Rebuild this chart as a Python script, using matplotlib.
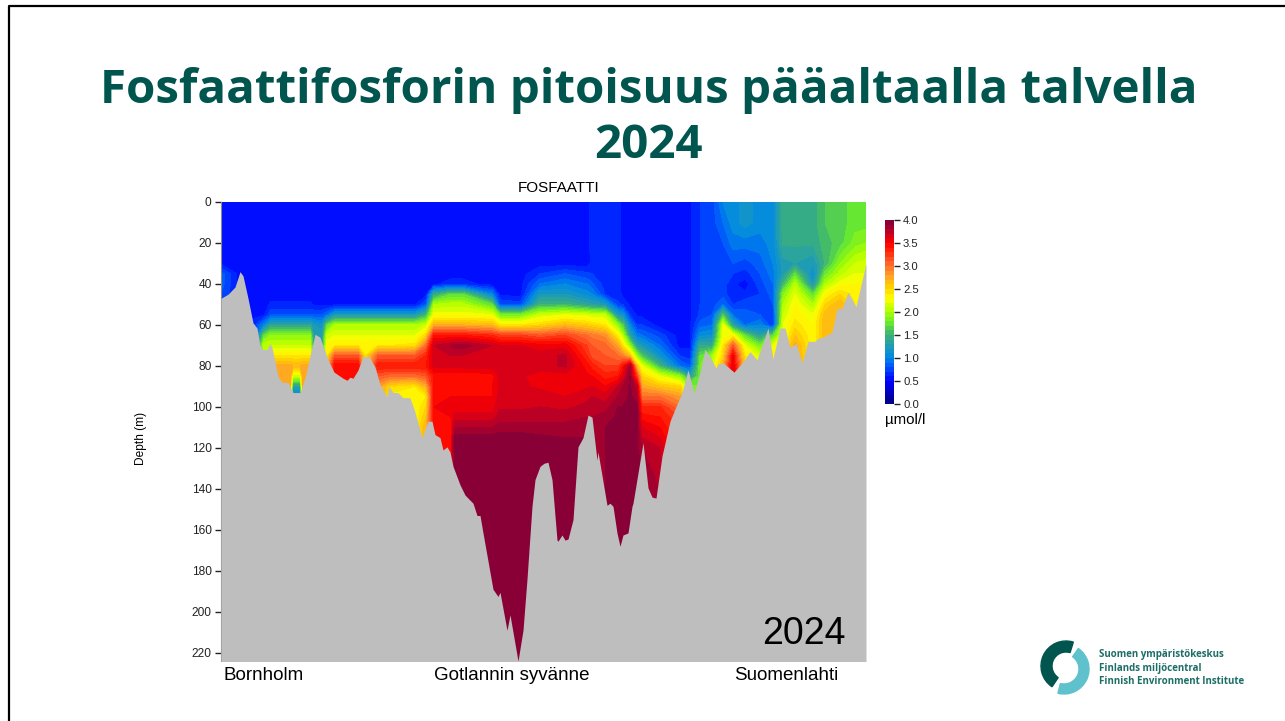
import numpy as np
import matplotlib
matplotlib.use("Agg")
import matplotlib.pyplot as plt
from matplotlib.colors import LinearSegmentedColormap
from matplotlib.lines import Line2D
from matplotlib.patches import Wedge

plt.rcParams['font.family'] = ['Liberation Sans', 'DejaVu Sans']

title_line_1 = "Fosfaattifosforin pitoisuus pääaltaalla talvella"
title_line_2 = "2024"
section_title = "FOSFAATTI"
y_label = "Depth (m)"
unit_label = "µmol/l"
place_labels = ["Bornholm", "Gotlannin syvänne", "Suomenlahti"]
year_label = "2024"
logo_lines = ["Suomen ympäristökeskus", "Finlands miljöcentral", "Finnish Environment Institute"]
depth_ticks = list(range(0, 221, 20))
cbar_ticks = [0.0, 0.5, 1.0, 1.5, 2.0, 2.5, 3.0, 3.5, 4.0]

depths = [0, 10, 20, 30, 35, 40, 45, 50, 55, 60, 65, 70, 75, 80, 85, 90, 95, 100, 105, 110, 115, 120, 140, 230]
stations = [221, 238, 255, 264, 271, 290, 293, 300, 303, 310, 314, 322, 327, 335, 358, 365, 378, 390, 415, 426, 434, 451, 455, 462,
            492, 500, 520, 540, 565, 587, 592, 605, 618, 623, 630, 637, 642, 660, 680, 690, 700, 712, 723, 733, 745, 760,
            773, 783, 795, 813, 825, 840, 855, 866]

p221 = [.55,.55,.55,.58,.85,.85,.8,.8,.8,.8,.8,.8,.8,.8,.8,.8,.8,.8,.8,.8,.8,.8,.8,.8]
p238 = [.55,.55,.55,.55,.58,.58,.58,.58,.58,.58,.58,.58,.58,.58,.58,.58,.58,.58,.58,.58,.58,.58,.58,.58]
p255 = [.55,.55,.55,.55,.55,.55,.55,.55,.55,.7,.8,.9,.9,.9,.9,.9,.9,.9,.9,.9,.9,.9,.9,.9]
p264 = [.55,.55,.55,.55,.55,.55,.55,.55,.58,1.0,1.7,2.1,2.1,2.1,2.1,2.1,2.1,2.1,2.1,2.1,2.1,2.1,2.1,2.1]
p271 = [.55,.55,.55,.55,.55,.55,.55,.62,.8,1.35,1.9,2.1,2.4,2.75,2.8,2.8,2.8,2.8,2.8,2.8,2.8,2.8,2.8,2.8]
p290 = [.55,.55,.55,.55,.55,.55,.55,.62,.8,1.35,1.9,2.1,2.4,2.75,2.8,2.8,2.8,2.8,2.8,2.8,2.8,2.8,2.8,2.8]
p293 = [.55,.55,.55,.55,.55,.55,.55,.62,.8,1.35,1.9,2.1,2.4,2.7,2.1,1.3,1.0,1.0,1.0,1.0,1.0,1.0,1.0,1.0]
p300 = [.55,.55,.55,.55,.55,.55,.55,.62,.8,1.35,1.9,2.1,2.4,2.7,2.1,1.3,1.0,1.0,1.0,1.0,1.0,1.0,1.0,1.0]
p303 = [.55,.55,.55,.55,.55,.55,.55,.62,.8,1.35,1.9,2.1,2.4,2.75,2.8,2.8,2.8,2.8,2.8,2.8,2.8,2.8,2.8,2.8]
p310 = [.55,.55,.55,.55,.55,.55,.55,.62,.8,1.35,1.9,2.1,2.4,2.75,2.8,2.8,2.8,2.8,2.8,2.8,2.8,2.8,2.8,2.8]
p314 = [.55,.55,.55,.55,.55,.55,.55,.58,.8,1.2,1.25,1.3,1.5,1.5,1.5,1.5,1.5,1.5,1.5,1.5,1.5,1.5,1.5,1.5]
p322 = [.55,.55,.55,.55,.55,.55,.55,.58,.8,1.15,1.25,1.3,1.5,1.5,1.5,1.5,1.5,1.5,1.5,1.5,1.5,1.5,1.5,1.5]
p327 = [.55,.55,.55,.55,.55,.55,.55,.57,.9,1.7,2.1,2.3,2.4,2.7,2.7,2.7,2.7,2.7,2.7,2.7,2.7,2.7,2.7,2.7]
p335 = [.55,.55,.55,.55,.55,.55,.55,.57,1.2,2.0,2.2,2.4,3.1,3.5,3.5,3.5,3.5,3.5,3.5,3.5,3.5,3.5,3.5,3.5]
p358 = [.55,.55,.55,.55,.55,.55,.55,.57,1.2,2.0,2.2,2.4,3.1,3.5,3.5,3.5,3.5,3.5,3.5,3.5,3.5,3.5,3.5,3.5]
p365 = [.55,.55,.55,.55,.55,.55,.55,.57,1.2,2.0,2.2,2.35,2.4,2.5,2.5,2.5,2.5,2.5,2.5,2.5,2.5,2.5,2.5,2.5]
p378 = [.55,.55,.55,.55,.55,.55,.55,.57,1.2,2.0,2.2,2.4,3.1,3.4,3.1,2.8,2.8,2.8,2.8,2.8,2.8,2.8,2.8,2.8]
p390 = [.55,.55,.55,.55,.55,.55,.55,.57,1.2,2.0,2.2,2.4,3.1,3.4,3.0,2.5,2.35,2.35,2.35,2.35,2.35,2.35,2.35,2.35]
p415 = [.55,.55,.55,.55,.55,.55,.55,.57,1.2,2.0,2.2,2.45,3.1,3.4,3.0,2.4,2.3,2.3,2.3,2.35,2.4,2.4,2.4,2.4]
p426 = [.55,.55,.55,.55,.55,.55,.58,.8,1.5,2.1,2.5,3.0,3.3,3.4,3.1,2.7,2.4,2.5,2.6,2.7,2.7,2.7,2.7,2.7]
p434 = [.55,.55,.55,.55,.55,.58,1.4,2.0,2.25,2.7,3.4,3.7,3.7,3.65,3.4,3.45,3.5,3.5,3.5,3.5,3.5,3.5,3.5,3.5]
p451 = [.55,.55,.55,.55,.55,.65,1.7,2.05,2.25,2.7,3.4,3.8,3.7,3.65,3.4,3.5,3.5,3.55,3.5,3.5,3.5,3.5,3.5,3.5]
p455 = [.55,.55,.55,.55,.55,.65,1.7,2.05,2.25,2.7,3.4,3.85,3.7,3.65,3.4,3.5,3.5,3.55,3.65,3.8,3.95,3.9,3.95,3.95]
p462 = [.55,.55,.55,.55,.55,.65,1.7,2.05,2.25,2.7,3.4,3.85,3.7,3.65,3.4,3.5,3.5,3.55,3.65,3.8,3.95,3.9,3.95,3.95]
p492 = [.55,.55,.55,.55,.55,.55,1.0,1.7,2.2,2.65,3.3,3.7,3.7,3.65,3.45,3.5,3.5,3.55,3.65,3.8,3.95,3.9,3.95,3.95]
p500 = [.55,.55,.55,.55,.55,.55,.58,.8,1.8,2.4,3.2,3.6,3.65,3.65,3.62,3.62,3.65,3.68,3.75,3.85,3.95,3.9,3.95,3.95]
p520 = [.55,.55,.55,.55,.55,.55,.55,.75,1.8,2.4,3.2,3.6,3.65,3.65,3.62,3.62,3.65,3.68,3.75,3.85,3.95,3.9,3.95,3.95]
p540 = [.55,.55,.55,.55,.7,.9,1.2,1.5,2.1,2.5,3.1,3.55,3.65,3.65,3.55,3.58,3.65,3.7,3.75,3.85,3.92,3.95,3.95,3.95]
p565 = [.55,.55,.55,.55,.8,1.0,1.2,1.5,2.2,2.65,3.2,3.55,3.72,3.72,3.55,3.55,3.6,3.68,3.75,3.85,3.9,3.95,3.95,3.95]
p587 = [.55,.55,.55,.55,.72,.9,1.05,1.35,2.15,2.55,3.0,3.2,3.3,3.45,3.52,3.58,3.68,3.72,3.8,3.85,3.9,3.92,3.9,3.9]
p592 = [.65,.65,.65,.62,.7,.82,1.0,1.3,2.1,2.5,2.95,3.1,3.15,3.35,3.5,3.6,3.7,3.75,3.8,3.85,3.9,3.9,3.9,3.9]
p605 = [.65,.65,.65,.65,.65,.65,.7,1.2,2.1,2.4,2.85,3.05,3.1,3.2,3.35,3.5,3.65,3.75,3.85,3.9,3.9,3.9,3.9,3.9]
p618 = [.65,.65,.65,.65,.65,.65,.65,.72,1.2,1.9,2.35,2.75,3.0,3.2,3.4,3.7,3.8,3.9,3.92,3.92,3.92,3.92,3.92,3.92]
p623 = [.55,.55,.55,.55,.55,.55,.57,.68,1.1,1.6,2.0,2.4,2.9,3.4,3.6,3.8,3.85,3.9,3.92,3.92,3.92,3.92,3.92,3.92]
p630 = [.55,.55,.55,.55,.55,.55,.55,.58,.7,1.0,1.3,1.9,2.6,3.85,3.9,3.92,3.92,3.92,3.92,3.92,3.92,3.92,3.92,3.92]
p637 = [.55,.55,.55,.55,.55,.55,.55,.56,.58,.7,.95,1.3,1.9,2.6,3.2,3.7,3.85,3.92,3.92,3.92,3.92,3.92,3.92,3.92]
p642 = [.55,.55,.55,.55,.55,.55,.55,.55,.57,.7,.9,1.2,1.6,2.2,2.5,2.75,3.0,3.3,3.45,3.6,3.7,3.8,3.95,3.95]
p660 = [.55,.55,.55,.55,.55,.55,.55,.55,.55,.55,.75,.9,1.1,1.5,2.2,2.6,3.0,3.3,3.4,3.5,3.6,3.7,3.8,3.8]
p680 = [.55,.55,.55,.55,.55,.55,.55,.55,.55,.55,.55,.55,.7,.9,1.9,2.5,2.8,3.0,3.2,3.2,3.2,3.2,3.2,3.2]
p690 = [.58,.58,.58,.58,.58,.58,.58,.58,.58,.58,.58,.58,.65,.8,1.3,1.9,2.1,2.1,2.1,2.1,2.1,2.1,2.1,2.1]
p700 = [.7,.7,.7,.7,.7,.7,.7,.7,.72,.85,1.05,1.4,1.7,1.8,1.8,1.8,1.8,1.8,1.8,1.8,1.8,1.8,1.8,1.8]
p712 = [.75,.75,.75,.75,.75,.75,.75,.75,.8,.9,1.1,1.4,1.95,2.1,2.1,2.1,2.1,2.1,2.1,2.1,2.1,2.1,2.1,2.1]
p723 = [1.0,.9,.8,.75,.75,.75,.75,.9,1.6,2.2,2.25,2.4,2.5,2.7,2.7,2.7,2.7,2.7,2.7,2.7,2.7,2.7,2.7,2.7]
p733 = [1.05,1.05,.95,.8,.7,.62,.62,.7,.9,1.3,2.3,3.1,3.5,3.6,3.6,3.6,3.6,3.6,3.6,3.6,3.6,3.6,3.6,3.6]
p745 = [1.15,1.15,.95,.75,.65,.55,.62,.78,.82,.9,1.7,2.2,2.4,2.5,2.5,2.5,2.5,2.5,2.5,2.5,2.5,2.5,2.5,2.5]
p760 = [1.05,1.05,.95,.85,.8,.75,.7,.72,.8,1.0,1.3,1.8,2.15,2.3,2.3,2.3,2.3,2.3,2.3,2.3,2.3,2.3,2.3,2.3]
p773 = [1.05,1.05,1.05,1.0,.95,.9,.85,.8,.72,.7,1.7,2.2,2.4,2.4,2.4,2.4,2.4,2.4,2.4,2.4,2.4,2.4,2.4,2.4]
p783 = [1.45,1.45,1.42,1.25,1.25,1.5,1.85,2.0,2.1,2.2,2.2,2.3,2.3,2.3,2.3,2.3,2.3,2.3,2.3,2.3,2.3,2.3,2.3,2.3]
p795 = [1.45,1.45,1.42,1.3,1.7,2.05,2.2,2.3,2.35,2.45,2.6,2.75,2.8,2.85,2.85,2.85,2.85,2.85,2.85,2.85,2.85,2.85,2.85,2.85]
p813 = [1.45,1.45,1.42,1.2,1.05,1.2,1.7,2.0,2.2,2.3,2.3,2.3,2.3,2.3,2.3,2.3,2.3,2.3,2.3,2.3,2.3,2.3,2.3,2.3]
p825 = [1.6,1.6,1.55,1.5,1.75,2.0,2.3,2.5,2.65,2.7,2.7,2.7,2.7,2.7,2.7,2.7,2.7,2.7,2.7,2.7,2.7,2.7,2.7,2.7]
p840 = [1.65,1.65,1.65,1.9,2.05,2.25,2.5,2.7,2.7,2.7,2.7,2.7,2.7,2.7,2.7,2.7,2.7,2.7,2.7,2.7,2.7,2.7,2.7,2.7]
p855 = [1.75,1.75,1.85,2.1,2.2,2.3,2.35,2.4,2.4,2.4,2.4,2.4,2.4,2.4,2.4,2.4,2.4,2.4,2.4,2.4,2.4,2.4,2.4,2.4]
p866 = [1.75,1.75,1.9,2.15,2.2,2.3,2.35,2.4,2.4,2.4,2.4,2.4,2.4,2.4,2.4,2.4,2.4,2.4,2.4,2.4,2.4,2.4,2.4,2.4]

profiles = [p221,p238,p255,p264,p271,p290,p293,p300,p303,p310,p314,p322,p327,p335,p358,p365,p378,p390,p415,p426,p434,p451,p455,p462,
            p492,p500,p520,p540,p565,p587,p592,p605,p618,p623,p630,p637,p642,p660,p680,p690,p700,p712,p723,p733,p745,p760,
            p773,p783,p795,p813,p825,p840,p855,p866]

bottom_x = [221,228,235,240,243,248,253,257,260,263,267,270,272,278,282,288,293,300,305,310,315,320,328,334,343,347,350,353,358,363,369,375,380,387,389,393,398,403,410,415,422,428,432,435,440,443,447,450,
            453,460,465,473,477,480,483,493,498,500,507,510,518,523,527,532,535,540,544,548,552,557,558,562,565,568,573,578,583,588,592,597,598,607,610,613,617,620,623,628,632,633,643,648,652,656,662,670,675,
            682,688,694,700,705,710,716,718,723,734,743,750,757,768,773,780,785,790,796,802,808,815,818,823,832,837,842,848,856,866]
bottom_d = [47,45,41.5,34,36,47,59,61.5,70,72,72,69,71,85,88,88,93,93,86,75,64.5,66,77,83,86,87,85.5,86,82,75.5,75.5,80.5,89,95,90,93,93,95.5,95.5,102.5,115,107,107,113.5,115,121,119.5,122,
            129,138,143,147,153,153,161.5,189,192.5,190.5,209,201.5,224,209,184,148.5,135.5,129,127.5,127,135.5,165,165.5,162.5,165,164.5,155,119.5,115,104,105,126,122,148,147,148.5,161.5,168,162.5,161.5,148.5,147,117.5,139.5,144,144.5,124,107,101,
            93,82,93,83,72,75.5,81,79,78.5,83,78,73,77,61.5,76.5,61.5,61.5,71,69,78.5,68,68,66.5,66,63.5,52,52,44,51,30]

node_values = [0.0, 0.5, 0.8, 1.0, 1.25, 1.5, 1.75, 2.0, 2.3, 2.55, 2.8, 3.1, 3.4, 3.5, 3.75, 4.0]
node_colors = ['#000080', '#0000ff', '#0050ff', '#0088e6', '#1e9cb4', '#3caf78', '#64e632', '#aaff00', '#ffff00',
               '#ffd000', '#ffa028', '#ff5a28', '#ff1400', '#ff0000', '#be0023', '#7d003c']
cmap = LinearSegmentedColormap.from_list('phos', [(v / 4.0, c) for v, c in zip(node_values, node_colors)])
levels = np.arange(0, 4.05, 0.1)

fig = plt.figure(figsize=(12.85, 7.21), dpi=100, facecolor='white')
W, H = 1285.0, 721.0

# page overlay in pixel units
page = fig.add_axes([0, 0, 1, 1])
page.set_xlim(0, W); page.set_ylim(H, 0); page.axis('off')
page.add_line(Line2D([9, 9, W], [H, 5.5, 5.5], color='black', lw=1.6))
title_font = dict(ha='center', va='center', fontsize=34.2, fontweight='bold', color='#00564f',
                  family=['Open Sans', 'DejaVu Sans'])
page.text(648.5, 91, title_line_1, **title_font)
page.text(648.5, 146, title_line_2, **title_font)

dark_teal, light_teal = '#00564f', '#5fc1cc'
page.add_patch(Wedge((1066, 666), 25, 124, 287, width=11, color=dark_teal))
page.add_patch(Wedge((1064, 669), 25, -55, 104, width=10, color=light_teal))
for line, y in zip(logo_lines, [655, 668, 681]):
    page.text(1099, y, line, ha='left', va='center', fontsize=7, fontweight='bold', color='#1c6e66',
              family=['Open Sans', 'DejaVu Sans'])

ax = fig.add_axes([221 / W, 1 - 661 / H, (866 - 221) / W, (661 - 202) / H])
values = np.column_stack(profiles)
cs = ax.contourf(stations, depths, values, levels=levels, cmap=cmap, vmin=0, vmax=4, extend='neither')
ax.fill_between(bottom_x, bottom_d, 230, color='#bebebe', lw=0, zorder=3)
ax.set_xlim(221, 866)
ax.set_ylim(224, 0)
ax.set_xticks([])
ax.set_yticks(depth_ticks)
ax.tick_params(axis='y', length=4.3, width=1, labelsize=8.6, pad=2.5, color='#222222', labelcolor='#222222')
for name, s in ax.spines.items():
    s.set_visible(name == 'left')
    s.set_color('#8a8a8a')
    s.set_linewidth(0.8)

page.text(559, 188, section_title, ha='center', va='center', fontsize=11, color='black')
page.text(141, 438, y_label, ha='center', va='center', rotation=90, fontsize=8.6, color='black')
for label, x in zip(place_labels, [263.5, 511.5, 786.5]):
    page.text(x, 676, label, ha='center', va='center', fontsize=13.5, color='black')
ax.text(846, 634, year_label, ha='right', va='center', fontsize=27, color='black', zorder=5,
        transform=page.transData)

cax = fig.add_axes([884.5 / W, 1 - 404 / H, 9.5 / W, (404 - 220) / H])
cb = fig.colorbar(cs, cax=cax, ticks=cbar_ticks)
cb.outline.set_visible(False)
cb.ax.set_yticklabels([f'{t:.1f}' for t in cbar_ticks])
cb.ax.tick_params(length=4.5, width=1, labelsize=8.1, pad=2, color='#222222', labelcolor='#222222')
page.text(884.5, 420, unit_label, ha='left', va='center', fontsize=10.8, color='black')

fig.savefig('out.png', dpi=100)
